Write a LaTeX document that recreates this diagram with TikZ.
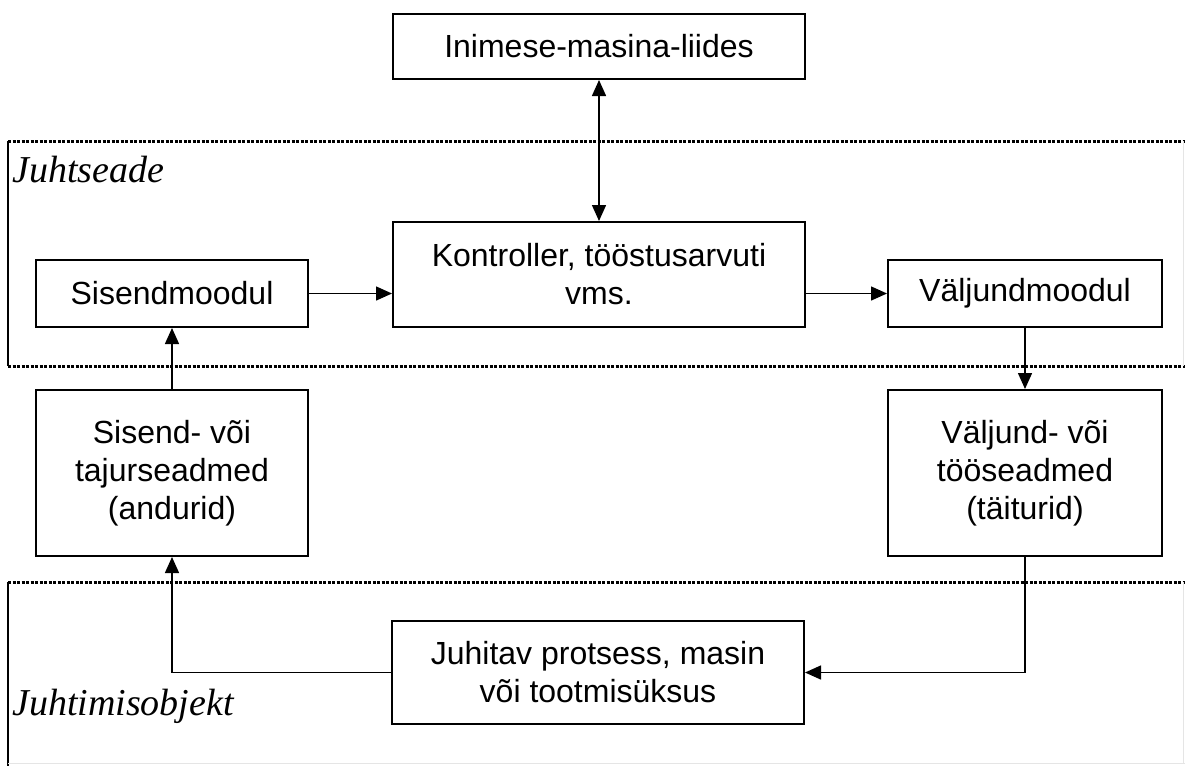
\documentclass[tikz,border=0pt]{standalone}
\usepackage{fontspec}
\setmainfont{Liberation Sans}
\newfontfamily\framefont{Liberation Serif}
\usetikzlibrary{arrows.meta}

\begin{document}
\begin{tikzpicture}[x=1pt,y=-1pt,
    box/.style={draw,line width=2pt,align=center,inner sep=0pt,
      font=\fontsize{32}{38}\selectfont},
    tip/.tip={Triangle[length=16pt,width=14pt]},
    link/.style={line width=1.5pt,-tip},
    rim/.style={line width=3pt,dash pattern=on 3pt off 1.5pt},
    faint/.style={line width=1pt,black!10},
    framelabel/.style={anchor=base west,inner sep=0pt,
      font=\framefont\itshape\fontsize{38}{44}\selectfont}]
  \useasboundingbox (0,0) rectangle (1185,766);

  % upper frame
  \draw[rim] (8,141) -- (1185,141);
  \draw[rim] (8,366) -- (1185,366);
  \draw[line width=2pt] (8,141) -- (8,366);
  \draw[faint] (1183,141) -- (1183,366);
  \node[framelabel] (upper) at (12,182) {Juhtseade};

  % lower frame
  \draw[rim] (8,582) -- (1185,582);
  \draw[line width=2pt] (8,582) -- (8,766);
  \draw[faint] (1183,582) -- (1183,763) (8,763) -- (1185,763);
  \node[framelabel] (lower) at (12,715) {Juhtimisobjekt};

  \node[box,minimum width=412pt,minimum height=65pt] (hmi) at (599,46.5)
    {Inimese-masina-liides};
  \node[box,minimum width=412pt,minimum height=105pt] (ctrl) at (599,274.5)
    {Kontroller, tööstusarvuti\\vms.};
  \node[box,minimum width=272pt,minimum height=67pt] (inmod) at (172,293.5)
    {Sisendmoodul};
  \node[box,minimum width=274pt,minimum height=67pt] (outmod) at (1025,293.5)
    {Väljundmoodul};
  \node[box,minimum width=272pt,minimum height=166pt] (sensors) at (172,473)
    {Sisend- või\\tajurseadmed\\(andurid)};
  \node[box,minimum width=274pt,minimum height=166pt] (actuators) at (1025,473)
    {Väljund- või\\tööseadmed\\(täiturid)};
  \node[box,minimum width=412pt,minimum height=103pt] (process) at (598,672.5)
    {Juhitav protsess, masin\\või tootmisüksus};

  \draw[line width=1.5pt,tip-tip] (hmi.south) -- (ctrl.north);
  \draw[link] (inmod.east) -- (inmod.east -| ctrl.west);
  \draw[link] (outmod.west -| ctrl.east) -- (outmod.west);
  \draw[link] (outmod.south) -- (actuators.north);
  \draw[link] (actuators.south) -- (actuators.south |- process.east) -- (process.east);
  \draw[link] (process.west) -- (sensors.south |- process.west) -- (sensors.south);
  \draw[link] (sensors.north) -- (inmod.south);
\end{tikzpicture}
\end{document}
